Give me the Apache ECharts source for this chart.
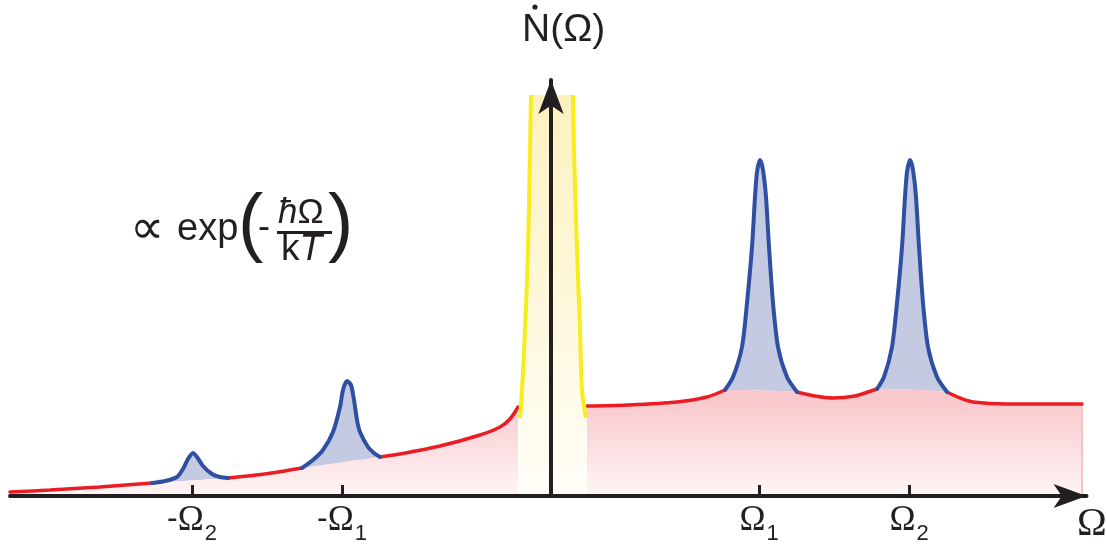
<!DOCTYPE html>
<html><head><meta charset="utf-8">
<script src="https://cdn.jsdelivr.net/npm/echarts@6/dist/echarts.min.js"></script>
<style>html,body{margin:0;padding:0;background:#fff}#c{width:1106px;height:549px}</style>
</head><body><div id="c"></div>
<script>
// Underlying (red) curve, including the chords beneath each resonance peak
const baseLeft = [[-541,4],[-501,6],[-451,9],[-399,13],[-323,18],[-286,22],[-249,28],[-171,39],[-151,42],[-111,50],[-71,61],[-51,69],[-41,77],[-33,89]];
const baseRight = [[36,90],[76,91],[126,94],[156,99],[174,106],[246,104],[264,100],[282,98],[304,100],[317,104],[326,107],[396,104],[409,98],[422,94],[456,92],[489,92],[531,92]];
// Resonance peaks (blue)
const peakNeg2 = [[-399,13],[-386,15],[-374,19],[-368,27],[-363,37],[-358,43],[-354,39],[-348,30],[-339,22],[-331,19],[-323,18]];
const peakNeg1 = [[-249,28],[-238,36],[-228,46],[-218,64],[-211,89],[-208,106],[-204,115],[-200,111],[-197,96],[-194,76],[-191,64],[-183,49],[-177,43],[-171,39]];
const peakPos1 = [[174,106],[182,119],[191,149],[196,193],[201,249],[204,299],[206,324],[209,336],[212,326],[215,299],[218,249],[222,193],[227,149],[236,119],[246,104]];
const peakPos2 = [[326,107],[333,119],[341,149],[346,193],[351,249],[354,299],[356,324],[359,336],[362,326],[365,299],[368,249],[372,193],[377,149],[386,119],[396,104]];
// Central elastic (yellow) line, clipped at the top
const yellowLeft = [[-31,78],[-29,106],[-26,166],[-23,246],[-21,346],[-20,401]];
const yellowRight = [[35,78],[31,106],[29,166],[26,246],[23,346],[22,401]];
const rightEdge = [[531,92],[531,0]];
// Tick labels
const tickValues = [-359,-209,208,358];
const tickSigns = ['-','-','',''];
const tickSubs = ['2','1','1','2'];

const peaks = [peakNeg2, peakNeg1, peakPos1, peakPos2];
function redSegments(base){
  const segs = [[base[0]]];
  for (let i = 1; i < base.length; i++) {
    const p = base[i-1], q = base[i];
    const isChord = peaks.some(pk => pk[0][0] === p[0] && pk[pk.length-1][0] === q[0]);
    if (isChord) segs.push([q]); else segs[segs.length-1].push(q);
  }
  return segs.filter(s => s.length > 1);
}

const RED = '#ec1c24', BLUE = '#2f50a2', YEL = '#f9ec1c', DARK = '#231f20';
const pinkGrad = new echarts.graphic.LinearGradient(0, 400, 0, 496, [{offset:0,color:'#f8c8cc'},{offset:1,color:'#fff5f6'}], true);
const yelGrad = new echarts.graphic.LinearGradient(0, 95, 0, 496, [{offset:0,color:'#fcf1bf'},{offset:1,color:'#fffef7'}], true);

const series = [];
const common = {type:'line', symbol:'none', silent:true, animation:false};
series.push(Object.assign({}, common, {data: yellowLeft.concat(yellowRight.slice().reverse()), lineStyle:{width:0}, areaStyle:{color:yelGrad, opacity:1}, z:1}));
peaks.forEach(pk => series.push(Object.assign({}, common, {data: pk, smooth:0.25, lineStyle:{width:0}, areaStyle:{color:'#c3cae2', opacity:1}, z:2})));
[baseLeft, baseRight].forEach(b => series.push(Object.assign({}, common, {data: b, smooth:0.3, lineStyle:{width:0}, areaStyle:{color:'#ffffff', opacity:1}, z:3})));
[baseLeft, baseRight].forEach(b => series.push(Object.assign({}, common, {data: b, smooth:0.3, lineStyle:{width:0}, areaStyle:{color:pinkGrad, opacity:1}, z:3})));
series.push(Object.assign({}, common, {data: rightEdge, lineStyle:{width:2, color:'#f6c3c7'}, z:3}));
redSegments(baseLeft).concat(redSegments(baseRight)).forEach(s => series.push(Object.assign({}, common, {data: s, smooth:0.3, lineStyle:{width:3.5, color:RED, cap:'round'}, z:4})));
peaks.forEach(pk => series.push(Object.assign({}, common, {data: pk, smooth:0.25, lineStyle:{width:4, color:BLUE, cap:'round'}, z:5})));
[yellowLeft, yellowRight].forEach(y => series.push(Object.assign({}, common, {data: y, smooth:0.3, lineStyle:{width:4, color:YEL}, z:5})));

const chart = echarts.init(document.getElementById('c'), null, {renderer:'canvas'});
chart.setOption({
  animation:false,
  backgroundColor:'#ffffff',
  grid:{left:10, right:19.5, top:80, bottom:53},
  xAxis:{type:'value', min:-541, max:535.5, z:10,
    axisLine:{onZero:false, lineStyle:{color:DARK, width:4}, symbol:['none','arrow'], symbolSize:[18,33]},
    axisTick:{show:true, inside:true, length:11, lineStyle:{color:DARK, width:3}, customValues:tickValues},
    axisLabel:{show:true, margin:7, customValues:tickValues,
      formatter: v => { const i = tickValues.indexOf(v); return (tickSigns[i] ? '{m|' + tickSigns[i] + '}' : '') + '{o|Ω}{s|' + tickSubs[i] + '}'; },
      rich:{
        m:{fontSize:32, fontFamily:'Liberation Sans', color:DARK, lineHeight:36, verticalAlign:'top'},
        o:{fontSize:35, fontFamily:'Liberation Serif', color:DARK, lineHeight:36, verticalAlign:'top'},
        s:{fontSize:22, fontFamily:'Liberation Sans', color:DARK, lineHeight:22, padding:[20,0,0,1], verticalAlign:'top'}
      }},
    splitLine:{show:false}},
  yAxis:{type:'value', min:0, max:416, z:10,
    axisLine:{show:true, onZero:true, lineStyle:{color:DARK, width:4}, symbol:['none','arrow'], symbolSize:[19,34]},
    axisTick:{show:false}, axisLabel:{show:false}, splitLine:{show:false}},
  graphic:[
    {type:'text', x:522, y:30, z:20, style:{text:'N(Ω)', font:'39px "Liberation Sans"', fill:DARK, verticalAlign:'middle'}},
    {type:'circle', shape:{cx:535, cy:7, r:2.6}, z:20, style:{fill:DARK}},
    {type:'text', x:130, y:231, z:20, style:{text:'∝', font:'48px "DejaVu Sans"', fill:DARK, verticalAlign:'middle'}},
    {type:'text', x:177, y:230, z:20, style:{text:'exp', font:'38px "Liberation Sans"', fill:DARK, verticalAlign:'middle'}},
    {type:'text', x:238, y:226.5, z:20, style:{text:'(', font:'76px "Liberation Sans"', fill:DARK, verticalAlign:'middle'}},
    {type:'text', x:258, y:228.5, z:20, style:{text:'-', font:'36px "Liberation Sans"', fill:DARK, verticalAlign:'middle'}},
    {type:'text', x:278, y:213, z:20, style:{text:'{i|ħ}{n|Ω}', rich:{i:{font:'italic 35px "Liberation Sans"', fill:DARK}, n:{font:'35px "Liberation Sans"', fill:DARK}}, verticalAlign:'middle'}},
    {type:'rect', shape:{x:277, y:231, width:55, height:3}, z:20, style:{fill:DARK}},
    {type:'text', x:281, y:250, z:20, style:{text:'{n|k}{i|T}', rich:{i:{font:'italic 37px "Liberation Sans"', fill:DARK}, n:{font:'37px "Liberation Sans"', fill:DARK}}, verticalAlign:'middle'}},
    {type:'text', x:328, y:226.5, z:20, style:{text:')', font:'76px "Liberation Sans"', fill:DARK, verticalAlign:'middle'}},
    {type:'text', x:1077, y:524, z:20, style:{text:'Ω', font:'40px "Liberation Serif"', fill:DARK, verticalAlign:'middle'}}
  ],
  series: series
});
</script></body></html>
